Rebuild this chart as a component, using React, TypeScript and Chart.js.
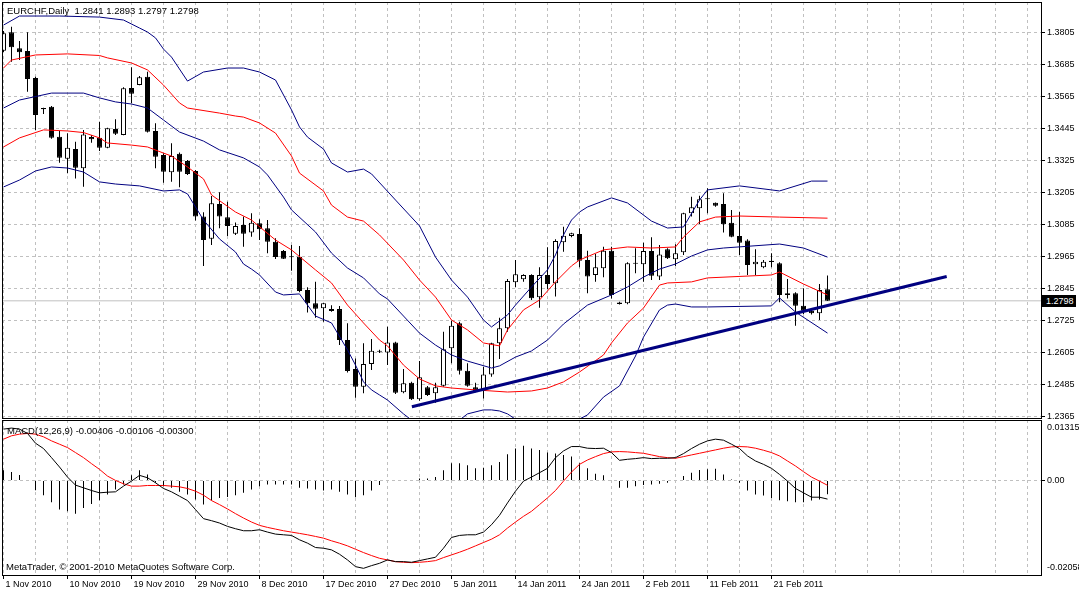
import { useEffect, useRef } from 'react';
import { Chart, registerables } from 'chart.js';

Chart.register(...registerables);

// one label every 8 bars, starting at bar 0
const dateLabels = [
  '1 Nov 2010', '10 Nov 2010', '19 Nov 2010', '29 Nov 2010', '8 Dec 2010', '17 Dec 2010', '27 Dec 2010',
  '5 Jan 2011', '14 Jan 2011', '24 Jan 2011', '2 Feb 2011', '11 Feb 2011', '21 Feb 2011',
];

const opens = [
  1.3736, 1.3805, 1.3745, 1.3735, 1.3634, 1.3521, 1.3526, 1.3413, 1.3331, 1.3367,
  1.3295, 1.3412, 1.3410, 1.3372, 1.3442, 1.3420, 1.3596, 1.3607, 1.3638, 1.3435,
  1.3345, 1.3280, 1.3350, 1.3322, 1.3285, 1.3114, 1.3031, 1.3161, 1.3111, 1.3050,
  1.3082, 1.3054, 1.3089, 1.3070, 1.3020, 1.2985, 1.2965, 1.2963, 1.2839, 1.2789,
  1.2770, 1.2760, 1.2767, 1.2651, 1.2542, 1.2476, 1.2561, 1.2609, 1.2604, 1.2642,
  1.2455, 1.2491, 1.2429, 1.2474, 1.2451, 1.2480, 1.2620, 1.2714, 1.2536, 1.2474,
  1.2461, 1.2522, 1.2639, 1.2695, 1.2868, 1.2879, 1.2895, 1.2811, 1.2895, 1.2864,
  1.3018, 1.3041, 1.3049, 1.2951, 1.2895, 1.2920, 1.2986, 1.2792, 1.2789, 1.2937,
  1.2935, 1.2985, 1.2889, 1.2991, 1.2954, 1.2980, 1.3126, 1.3145, 1.3179, 1.3166,
  1.3161, 1.3091, 1.3041, 1.3024, 1.2935, 1.2924, 1.2944, 1.2939, 1.2826, 1.2826,
  1.2780, 1.2761, 1.2751, 1.2841,
];
const highs = [
  1.3810, 1.3826, 1.3772, 1.3805, 1.3638, 1.3522, 1.3529, 1.3435, 1.3426, 1.3395,
  1.3439, 1.3420, 1.3470, 1.3447, 1.3479, 1.3599, 1.3674, 1.3641, 1.3657, 1.3464,
  1.3351, 1.3389, 1.3354, 1.3326, 1.3289, 1.3130, 1.3191, 1.3205, 1.3170, 1.3092,
  1.3114, 1.3126, 1.3104, 1.3101, 1.3033, 1.2989, 1.3007, 1.3004, 1.2849, 1.2870,
  1.2790, 1.2781, 1.2779, 1.2714, 1.2582, 1.2639, 1.2655, 1.2615, 1.2701, 1.2645,
  1.2542, 1.2495, 1.2572, 1.2479, 1.2491, 1.2682, 1.2723, 1.2720, 1.2564, 1.2491,
  1.2551, 1.2641, 1.2735, 1.2880, 1.2951, 1.2898, 1.2898, 1.2924, 1.2999, 1.3029,
  1.3076, 1.3053, 1.3070, 1.2986, 1.2974, 1.3001, 1.3001, 1.2795, 1.2943, 1.2995,
  1.3016, 1.3036, 1.3007, 1.2995, 1.3010, 1.3128, 1.3188, 1.3192, 1.3220, 1.3167,
  1.3201, 1.3139, 1.3132, 1.3029, 1.2991, 1.2951, 1.2976, 1.2943, 1.2880, 1.2830,
  1.2845, 1.2766, 1.2861, 1.2893,
];
const lows = [
  1.3731, 1.3695, 1.3701, 1.3582, 1.3439, 1.3499, 1.3406, 1.3316, 1.3276, 1.3257,
  1.3226, 1.3391, 1.3360, 1.3370, 1.3420, 1.3419, 1.3539, 1.3606, 1.3429, 1.3295,
  1.3241, 1.3245, 1.3224, 1.3270, 1.3099, 1.2929, 1.3007, 1.3070, 1.3041, 1.3045,
  1.3001, 1.3038, 1.3026, 1.2976, 1.2955, 1.2955, 1.2911, 1.2830, 1.2754, 1.2735,
  1.2720, 1.2757, 1.2632, 1.2529, 1.2435, 1.2451, 1.2539, 1.2602, 1.2557, 1.2449,
  1.2451, 1.2426, 1.2423, 1.2441, 1.2416, 1.2476, 1.2564, 1.2522, 1.2476, 1.2455,
  1.2432, 1.2513, 1.2580, 1.2682, 1.2849, 1.2870, 1.2801, 1.2772, 1.2841, 1.2814,
  1.2982, 1.3036, 1.2924, 1.2826, 1.2870, 1.2886, 1.2807, 1.2784, 1.2785, 1.2901,
  1.2870, 1.2876, 1.2876, 1.2955, 1.2929, 1.2970, 1.3114, 1.3086, 1.3126, 1.3151,
  1.3054, 1.3036, 1.2970, 1.2895, 1.2895, 1.2920, 1.2924, 1.2793, 1.2807, 1.2705,
  1.2749, 1.2747, 1.2726, 1.2797,
];
const closes = [
  1.3801, 1.3749, 1.3730, 1.3630, 1.3495, 1.3516, 1.3410, 1.3335, 1.3372, 1.3297,
  1.3422, 1.3404, 1.3372, 1.3445, 1.3425, 1.3595, 1.3575, 1.3636, 1.3432, 1.3338,
  1.3282, 1.3341, 1.3282, 1.3274, 1.3114, 1.3026, 1.3164, 1.3114, 1.3079, 1.3079,
  1.3050, 1.3091, 1.3066, 1.3020, 1.2962, 1.2956, 1.2961, 1.2835, 1.2789, 1.2768,
  1.2789, 1.2767, 1.2651, 1.2535, 1.2476, 1.2561, 1.2611, 1.2607, 1.2642, 1.2453,
  1.2489, 1.2429, 1.2511, 1.2445, 1.2474, 1.2616, 1.2705, 1.2536, 1.2480, 1.2457,
  1.2522, 1.2639, 1.2695, 1.2872, 1.2898, 1.2895, 1.2808, 1.2895, 1.2861, 1.3022,
  1.3042, 1.3051, 1.2948, 1.2889, 1.2924, 1.2986, 1.2820, 1.2786, 1.2939, 1.2940,
  1.2985, 1.2892, 1.2972, 1.2958, 1.2976, 1.3126, 1.3149, 1.3179, 1.3180, 1.3155,
  1.3085, 1.3038, 1.3016, 1.2932, 1.2945, 1.2945, 1.2948, 1.2820, 1.2820, 1.2780,
  1.2761, 1.2751, 1.2839, 1.2798,
];

const priceTicks = [
  1.2365, 1.2485, 1.2605, 1.2725, 1.2845, 1.2965, 1.3085, 1.3205, 1.3325, 1.3445, 1.3565, 1.3685, 1.3805,
];

// band lines as [bar, price]
const blueUpper: [number, number][] = [
  [0, 1.3832], [2, 1.3866], [7, 1.3866], [12, 1.3862], [15, 1.3851], [17, 1.3821], [18, 1.3806], [19, 1.3784],
  [20, 1.3742], [21, 1.3712], [23, 1.3622], [25, 1.3656], [28, 1.3671], [30, 1.3671], [32, 1.3656], [34, 1.3626],
  [36, 1.3514], [37, 1.3450], [38, 1.3412], [40, 1.3367], [41, 1.3315], [43, 1.3281], [45, 1.3292], [46, 1.3274],
  [49, 1.3176], [52, 1.3079], [54, 1.2962], [56, 1.2876], [58, 1.2812], [60, 1.2726], [61, 1.2700], [63, 1.2745],
  [64, 1.2782], [66, 1.2850], [68, 1.2914], [69, 1.2970], [70, 1.3045], [71, 1.3101], [72, 1.3131], [73, 1.3150],
  [76, 1.3184], [78, 1.3165], [81, 1.3097], [83, 1.3071], [85, 1.3075], [87, 1.3176], [88, 1.3214], [92, 1.3229],
  [96, 1.3214], [97, 1.3210], [101, 1.3247], [103, 1.3247],
];
const redUpper: [number, number][] = [
  [0, 1.3671], [1, 1.3701], [4, 1.3720], [8, 1.3724], [12, 1.3718], [13, 1.3709], [16, 1.3690], [18, 1.3664],
  [20, 1.3607], [22, 1.3540], [23, 1.3521], [27, 1.3502], [29, 1.3491], [30, 1.3487], [32, 1.3465], [34, 1.3427],
  [36, 1.3341], [37, 1.3277], [40, 1.3210], [41, 1.3157], [43, 1.3112], [45, 1.3097], [47, 1.3045], [50, 1.2951],
  [52, 1.2876], [54, 1.2812], [56, 1.2726], [58, 1.2689], [60, 1.2640], [62, 1.2629], [63, 1.2689], [65, 1.2764],
  [67, 1.2801], [69, 1.2869], [71, 1.2929], [72, 1.2951], [75, 1.2989], [78, 1.3000], [81, 1.2996], [84, 1.3000],
  [85, 1.3037], [87, 1.3094], [89, 1.3112], [92, 1.3116], [97, 1.3112], [103, 1.3108],
];
const blueMiddle: [number, number][] = [
  [0, 1.3521], [2, 1.3551], [6, 1.3577], [10, 1.3577], [12, 1.3559], [14, 1.3544], [16, 1.3536], [18, 1.3521],
  [20, 1.3476], [22, 1.3431], [25, 1.3397], [27, 1.3364], [30, 1.3334], [32, 1.3300], [33, 1.3270], [35, 1.3187],
  [36, 1.3139], [39, 1.3056], [41, 1.2977], [43, 1.2921], [45, 1.2884], [47, 1.2824], [48, 1.2805], [50, 1.2741],
  [52, 1.2677], [54, 1.2632], [56, 1.2595], [58, 1.2572], [61, 1.2546], [62, 1.2554], [64, 1.2587], [66, 1.2610],
  [68, 1.2651], [70, 1.2711], [73, 1.2782], [76, 1.2820], [78, 1.2850], [80, 1.2887], [82, 1.2917], [84, 1.2936],
  [86, 1.2966], [88, 1.2989], [90, 1.2996], [97, 1.3011], [100, 1.2996], [103, 1.2962],
];
const redLower: [number, number][] = [
  [0, 1.3375], [2, 1.3409], [5, 1.3439], [8, 1.3435], [10, 1.3429], [12, 1.3409], [13, 1.3390], [16, 1.3382],
  [18, 1.3375], [20, 1.3352], [21, 1.3341], [23, 1.3300], [25, 1.3255], [26, 1.3195], [29, 1.3131], [31, 1.3101],
  [34, 1.3026], [36, 1.2989], [39, 1.2914], [41, 1.2865], [43, 1.2782], [45, 1.2715], [47, 1.2651], [48, 1.2629],
  [50, 1.2557], [52, 1.2505], [54, 1.2479], [56, 1.2471], [59, 1.2464], [63, 1.2456], [66, 1.2460], [68, 1.2471],
  [70, 1.2494], [72, 1.2531], [75, 1.2595], [76, 1.2640], [78, 1.2715], [80, 1.2771], [82, 1.2857], [83, 1.2865],
  [86, 1.2869], [88, 1.2884], [96, 1.2895], [97, 1.2906], [100, 1.2861], [103, 1.2820],
];
const blueLower: [number, number][] = [
  [0, 1.3225], [2, 1.3251], [4, 1.3285], [6, 1.3300], [8, 1.3296], [10, 1.3281], [12, 1.3244], [14, 1.3236],
  [17, 1.3229], [20, 1.3210], [22, 1.3214], [23, 1.3199], [25, 1.3101], [27, 1.3030], [29, 1.2981], [30, 1.2936],
  [31, 1.2917], [32, 1.2895], [34, 1.2831], [35, 1.2820], [37, 1.2824], [38, 1.2782], [39, 1.2741], [41, 1.2715],
  [43, 1.2614], [44, 1.2557], [45, 1.2494], [46, 1.2464], [47, 1.2445], [48, 1.2426], [50, 1.2374], [51, 1.2351],
  [54, 1.2321], [57, 1.2351], [58, 1.2374], [60, 1.2389], [61, 1.2389], [62, 1.2385], [63, 1.2374], [66, 1.2314],
  [69, 1.2306], [71, 1.2332], [72, 1.2355], [73, 1.2370], [75, 1.2437], [77, 1.2479], [79, 1.2591], [80, 1.2662],
  [82, 1.2764], [83, 1.2782], [84, 1.2786], [86, 1.2775], [88, 1.2775], [96, 1.2779], [97, 1.2809], [99, 1.2756],
  [103, 1.2677],
];
const trendLine: [number, number][] = [[51.05, 1.2401], [117.9, 1.2889]];

const macdMain = [
  0.01117, 0.01139, 0.01117, 0.01022, 0.00810, 0.00694, 0.00496, 0.00292, 0.00073, -0.00102,
  -0.00161, -0.00219, -0.00270, -0.00256, -0.00248, -0.00124, -0.00015, 0.00110, 0.00058, -0.00051,
  -0.00175, -0.00248, -0.00343, -0.00438, -0.00635, -0.00832, -0.00876, -0.00927, -0.01000, -0.01051,
  -0.01095, -0.01095, -0.01073, -0.01124, -0.01168, -0.01183, -0.01197, -0.01292, -0.01365, -0.01460,
  -0.01475, -0.01511, -0.01606, -0.01730, -0.01876, -0.01913, -0.01854, -0.01803, -0.01730, -0.01767,
  -0.01767, -0.01781, -0.01745, -0.01708, -0.01672, -0.01475, -0.01241, -0.01197, -0.01183, -0.01183,
  -0.01124, -0.00964, -0.00759, -0.00489, -0.00234, -0.00015, 0.00073, 0.00168, 0.00263, 0.00496,
  0.00642, 0.00737, 0.00737, 0.00701, 0.00694, 0.00701, 0.00606, 0.00438, 0.00460, 0.00475,
  0.00496, 0.00475, 0.00482, 0.00482, 0.00496, 0.00584, 0.00694, 0.00788, 0.00861, 0.00898,
  0.00876, 0.00788, 0.00694, 0.00533, 0.00423, 0.00350, 0.00263, 0.00131, -0.00015, -0.00175,
  -0.00270, -0.00365, -0.00365, -0.00406,
];
const macdSignal = [
  0.00898, 0.00971, 0.01007, 0.01022, 0.01007, 0.00949, 0.00861, 0.00788, 0.00715, 0.00606,
  0.00496, 0.00365, 0.00241, 0.00095, 0.00000, -0.00073, -0.00124, -0.00124, -0.00110, -0.00110,
  -0.00110, -0.00124, -0.00139, -0.00175, -0.00234, -0.00321, -0.00438, -0.00526, -0.00621, -0.00723,
  -0.00818, -0.00905, -0.00978, -0.01022, -0.01059, -0.01095, -0.01124, -0.01153, -0.01183, -0.01219,
  -0.01256, -0.01314, -0.01365, -0.01424, -0.01497, -0.01570, -0.01635, -0.01694, -0.01730, -0.01767,
  -0.01781, -0.01789, -0.01781, -0.01767, -0.01745, -0.01679, -0.01621, -0.01562, -0.01497, -0.01424,
  -0.01351, -0.01278, -0.01183, -0.01037, -0.00905, -0.00781, -0.00672, -0.00526, -0.00380, -0.00219,
  -0.00015, 0.00183, 0.00350, 0.00445, 0.00518, 0.00584, 0.00621, 0.00628, 0.00621, 0.00606,
  0.00591, 0.00555, 0.00518, 0.00496, 0.00482, 0.00518, 0.00555, 0.00591, 0.00628, 0.00664,
  0.00701, 0.00730, 0.00737, 0.00730, 0.00701, 0.00657, 0.00606, 0.00533, 0.00423, 0.00314,
  0.00190, 0.00073, -0.00015, -0.00106,
];
const macdHist = [
  0.00219, 0.00183, 0.00117, 0.00000, -0.00212, -0.00321, -0.00475, -0.00635, -0.00672, -0.00723,
  -0.00599, -0.00511, -0.00431, -0.00307, -0.00197, -0.00088, 0.00110, 0.00219, 0.00131, -0.00051,
  -0.00124, -0.00161, -0.00248, -0.00307, -0.00416, -0.00526, -0.00438, -0.00380, -0.00358, -0.00321,
  -0.00270, -0.00197, -0.00124, -0.00088, -0.00088, -0.00088, -0.00088, -0.00161, -0.00175, -0.00197,
  -0.00219, -0.00197, -0.00248, -0.00307, -0.00365, -0.00321, -0.00219, -0.00102, -0.00015, -0.00015,
  0.00000, -0.00015, 0.00044, 0.00044, 0.00073, 0.00219, 0.00372, 0.00372, 0.00329, 0.00263,
  0.00277, 0.00329, 0.00402, 0.00569, 0.00694, 0.00752, 0.00694, 0.00664, 0.00606, 0.00584,
  0.00555, 0.00518, 0.00372, 0.00263, 0.00146, 0.00110, 0.00000, -0.00161, -0.00161, -0.00124,
  -0.00102, -0.00088, -0.00073, -0.00051, -0.00015, 0.00095, 0.00168, 0.00226, 0.00241, 0.00256,
  0.00131, 0.00022, -0.00051, -0.00219, -0.00307, -0.00329, -0.00380, -0.00431, -0.00453, -0.00475,
  -0.00475, -0.00438, -0.00416, -0.00300,
];

const FONT = "'Liberation Sans', Arial, sans-serif";
const GRID = '#c0c0c0';
const NAVY = '#000080';
const X_MIN = -0.1875;
const X_MAX = 129.6875;
const PRICE_MIN = 1.23586;
const PRICE_MAX = 1.39186;
const MACD_MIN = -0.02058;
const MACD_MAX = 0.01315;

const last = closes.length - 1;
const barIdx = closes.map((_, i) => i);
const gridBars = Array.from({ length: 33 }, (_, k) => k * 4);
const pts = (a: [number, number][]) => a.map(([x, y]) => ({ x, y }));

// keep Chart.js from reserving room for half-labels at the pane edges
const noEdgePadding = (s: any) => {
  s.paddingTop = 0;
  s.paddingBottom = 0;
  s.paddingLeft = 0;
  s.paddingRight = 0;
};

const framePlugin = {
  id: 'frame',
  afterDraw(chart: any) {
    const { ctx, chartArea: a } = chart;
    ctx.save();
    ctx.strokeStyle = '#000';
    ctx.lineWidth = 1;
    ctx.strokeRect(Math.round(a.left) + 0.5, Math.round(a.top) + 0.5,
      Math.round(a.right - a.left), Math.round(a.bottom - a.top));
    ctx.restore();
  },
};

function band(data: [number, number][], color: string) {
  return {
    type: 'line' as const,
    data: pts(data),
    borderColor: color,
    borderWidth: 1,
    pointRadius: 0,
    order: 1,
  };
}

function PriceChart() {
  const ref = useRef<HTMLCanvasElement>(null);

  useEffect(() => {
    if (!ref.current) return;
    const chart = new Chart(ref.current, {
      type: 'line',
      data: {
        datasets: [
          { type: 'line', data: pts(trendLine), borderColor: NAVY, borderWidth: 3, pointRadius: 0, order: 0 },
          band(blueUpper, NAVY),
          band(redUpper, '#ff0000'),
          band(blueMiddle, NAVY),
          band(redLower, '#ff0000'),
          band(blueLower, NAVY),
          {
            type: 'bar',
            data: barIdx.map((i) => ({ x: i, y: [opens[i], closes[i]] })),
            backgroundColor: barIdx.map((i) => (closes[i] >= opens[i] ? '#ffffff' : '#000000')),
            borderColor: '#000',
            borderWidth: 1,
            borderSkipped: false,
            barThickness: 5,
            minBarLength: 1,
            inflateAmount: 0,
            grouped: false,
            order: 5,
          },
          {
            type: 'bar',
            data: barIdx.map((i) => ({ x: i, y: [lows[i], highs[i]] })),
            backgroundColor: '#000',
            borderWidth: 0,
            barThickness: 1,
            minBarLength: 1,
            inflateAmount: 0,
            grouped: false,
            order: 6,
          },
          {
            type: 'line',
            data: [{ x: X_MIN, y: closes[last] }, { x: X_MAX, y: closes[last] }],
            borderColor: GRID,
            borderWidth: 1,
            pointRadius: 0,
            order: 7,
          },
        ],
      } as any,
      options: {
        animation: false,
        responsive: false,
        events: [],
        layout: { padding: { left: 2, top: 2, right: 0, bottom: 3 } },
        plugins: { legend: { display: false }, tooltip: { enabled: false } },
        scales: {
          x: {
            type: 'linear',
            min: X_MIN,
            max: X_MAX,
            offset: false,
            afterBuildTicks: (s: any) => { s.ticks = gridBars.map((v) => ({ value: v })); },
            afterFit: (s: any) => { s.height = 0; noEdgePadding(s); },
            ticks: { display: false },
            grid: { color: GRID, drawTicks: false, offset: false },
            border: { display: false, dash: [3, 3] },
          },
          y: {
            position: 'right',
            min: PRICE_MIN,
            max: PRICE_MAX,
            afterBuildTicks: (s: any) => { s.ticks = priceTicks.map((v) => ({ value: v })); },
            afterFit: (s: any) => { s.width = 38; noEdgePadding(s); },
            ticks: {
              color: '#000',
              font: { family: FONT, size: 9 },
              padding: 2,
              autoSkip: false,
              callback: (v: any) => Number(v).toFixed(4),
            },
            grid: { color: GRID, tickColor: '#000', tickLength: 4 },
            border: { display: false, dash: [3, 3] },
          },
        },
      } as any,
      plugins: [framePlugin],
    });
    return () => chart.destroy();
  }, []);

  return <canvas ref={ref} width={1079} height={421} style={{ position: 'absolute', left: 0, top: 0 }} />;
}

// y labels sit just inside the pane, as MetaTrader draws them
const macdInset = ((MACD_MAX - MACD_MIN) * 7.5) / 155;
const macdTicks = [MACD_MIN + macdInset, 0, MACD_MAX - macdInset];
const macdTickLabels = [MACD_MIN.toFixed(5), '0.00', MACD_MAX.toFixed(5)];

function MacdChart() {
  const ref = useRef<HTMLCanvasElement>(null);

  useEffect(() => {
    if (!ref.current) return;
    const isLabelBar = (v: number) => v % 8 === 0 && v / 8 < dateLabels.length;
    const chart = new Chart(ref.current, {
      type: 'line',
      data: {
        datasets: [
          { type: 'line', data: barIdx.map((i) => ({ x: i, y: macdMain[i] })), borderColor: '#000', borderWidth: 1, pointRadius: 0, order: 0 },
          { type: 'line', data: barIdx.map((i) => ({ x: i, y: macdSignal[i] })), borderColor: '#ff0000', borderWidth: 1, pointRadius: 0, order: 1 },
          {
            type: 'bar',
            data: barIdx.map((i) => ({ x: i, y: macdHist[i] })),
            backgroundColor: '#000',
            borderWidth: 0,
            barThickness: 1,
            inflateAmount: 0,
            grouped: false,
            order: 2,
          },
        ],
      } as any,
      options: {
        animation: false,
        responsive: false,
        events: [],
        layout: { padding: { left: 2, top: 1, right: 0, bottom: 0 } },
        plugins: { legend: { display: false }, tooltip: { enabled: false } },
        scales: {
          x: {
            type: 'linear',
            min: X_MIN,
            max: X_MAX,
            offset: false,
            afterBuildTicks: (s: any) => { s.ticks = gridBars.map((v) => ({ value: v })); },
            afterFit: (s: any) => { s.height = 17; noEdgePadding(s); },
            ticks: {
              color: '#000',
              font: { family: FONT, size: 9 },
              padding: 0,
              align: 'start',
              labelOffset: 2,
              autoSkip: false,
              maxRotation: 0,
              minRotation: 0,
              callback: (v: any) => (isLabelBar(v) ? dateLabels[v / 8] : ''),
            },
            grid: {
              color: GRID,
              offset: false,
              tickLength: 4,
              tickColor: (c: any) => (c.tick && isLabelBar(c.tick.value) ? '#000' : 'rgba(0,0,0,0)'),
            },
            border: { display: false, dash: [3, 3] },
          },
          y: {
            position: 'right',
            min: MACD_MIN,
            max: MACD_MAX,
            afterBuildTicks: (s: any) => { s.ticks = macdTicks.map((v) => ({ value: v })); },
            afterFit: (s: any) => { s.width = 38; noEdgePadding(s); },
            ticks: {
              color: '#000',
              font: { family: FONT, size: 9 },
              padding: 2,
              autoSkip: false,
              callback: (v: any) => macdTickLabels[macdTicks.indexOf(Number(v))] ?? '',
            },
            grid: {
              color: (c: any) => (c.tick && c.tick.value === 0 ? GRID : 'rgba(0,0,0,0)'),
              tickColor: (c: any) => (c.tick && c.tick.value === 0 ? '#000' : 'rgba(0,0,0,0)'),
              tickLength: 4,
            },
            border: { display: false, dash: [3, 3] },
          },
        },
      } as any,
      plugins: [framePlugin],
    });
    return () => chart.destroy();
  }, []);

  return <canvas ref={ref} width={1079} height={173} style={{ position: 'absolute', left: 0, top: 419 }} />;
}

const textStyle = {
  position: 'absolute' as const,
  fontFamily: FONT,
  fontSize: '9.5px',
  lineHeight: '11px',
  color: '#000',
  whiteSpace: 'pre' as const,
};

export default function App() {
  const ohlc = [opens, highs, lows, closes].map((a) => a[last].toFixed(4)).join(' ');
  const macdText = `MACD(12,26,9) ${macdMain[last].toFixed(5)} ${macdSignal[last].toFixed(5)} ${macdHist[last].toFixed(5)}`;

  return (
    <div style={{ position: 'fixed', left: 0, top: 0, width: 1079, height: 592, background: '#fff', overflow: 'hidden' }}>
      <PriceChart />
      <MacdChart />
      <div style={{ ...textStyle, left: 7, top: 5 }}>{`EURCHF,Daily  ${ohlc}`}</div>
      <div style={{ ...textStyle, left: 7, top: 425 }}>{macdText}</div>
      <div style={{ ...textStyle, left: 6, top: 561 }}>MetaTrader, © 2001-2010 MetaQuotes Software Corp.</div>
      <div
        style={{
          ...textStyle,
          left: 1042,
          top: 295,
          width: 34,
          height: 12,
          lineHeight: '12px',
          fontSize: '9px',
          background: '#000',
          color: '#fff',
          paddingLeft: 4,
          boxSizing: 'border-box',
        }}
      >
        {closes[last].toFixed(4)}
      </div>
    </div>
  );
}
